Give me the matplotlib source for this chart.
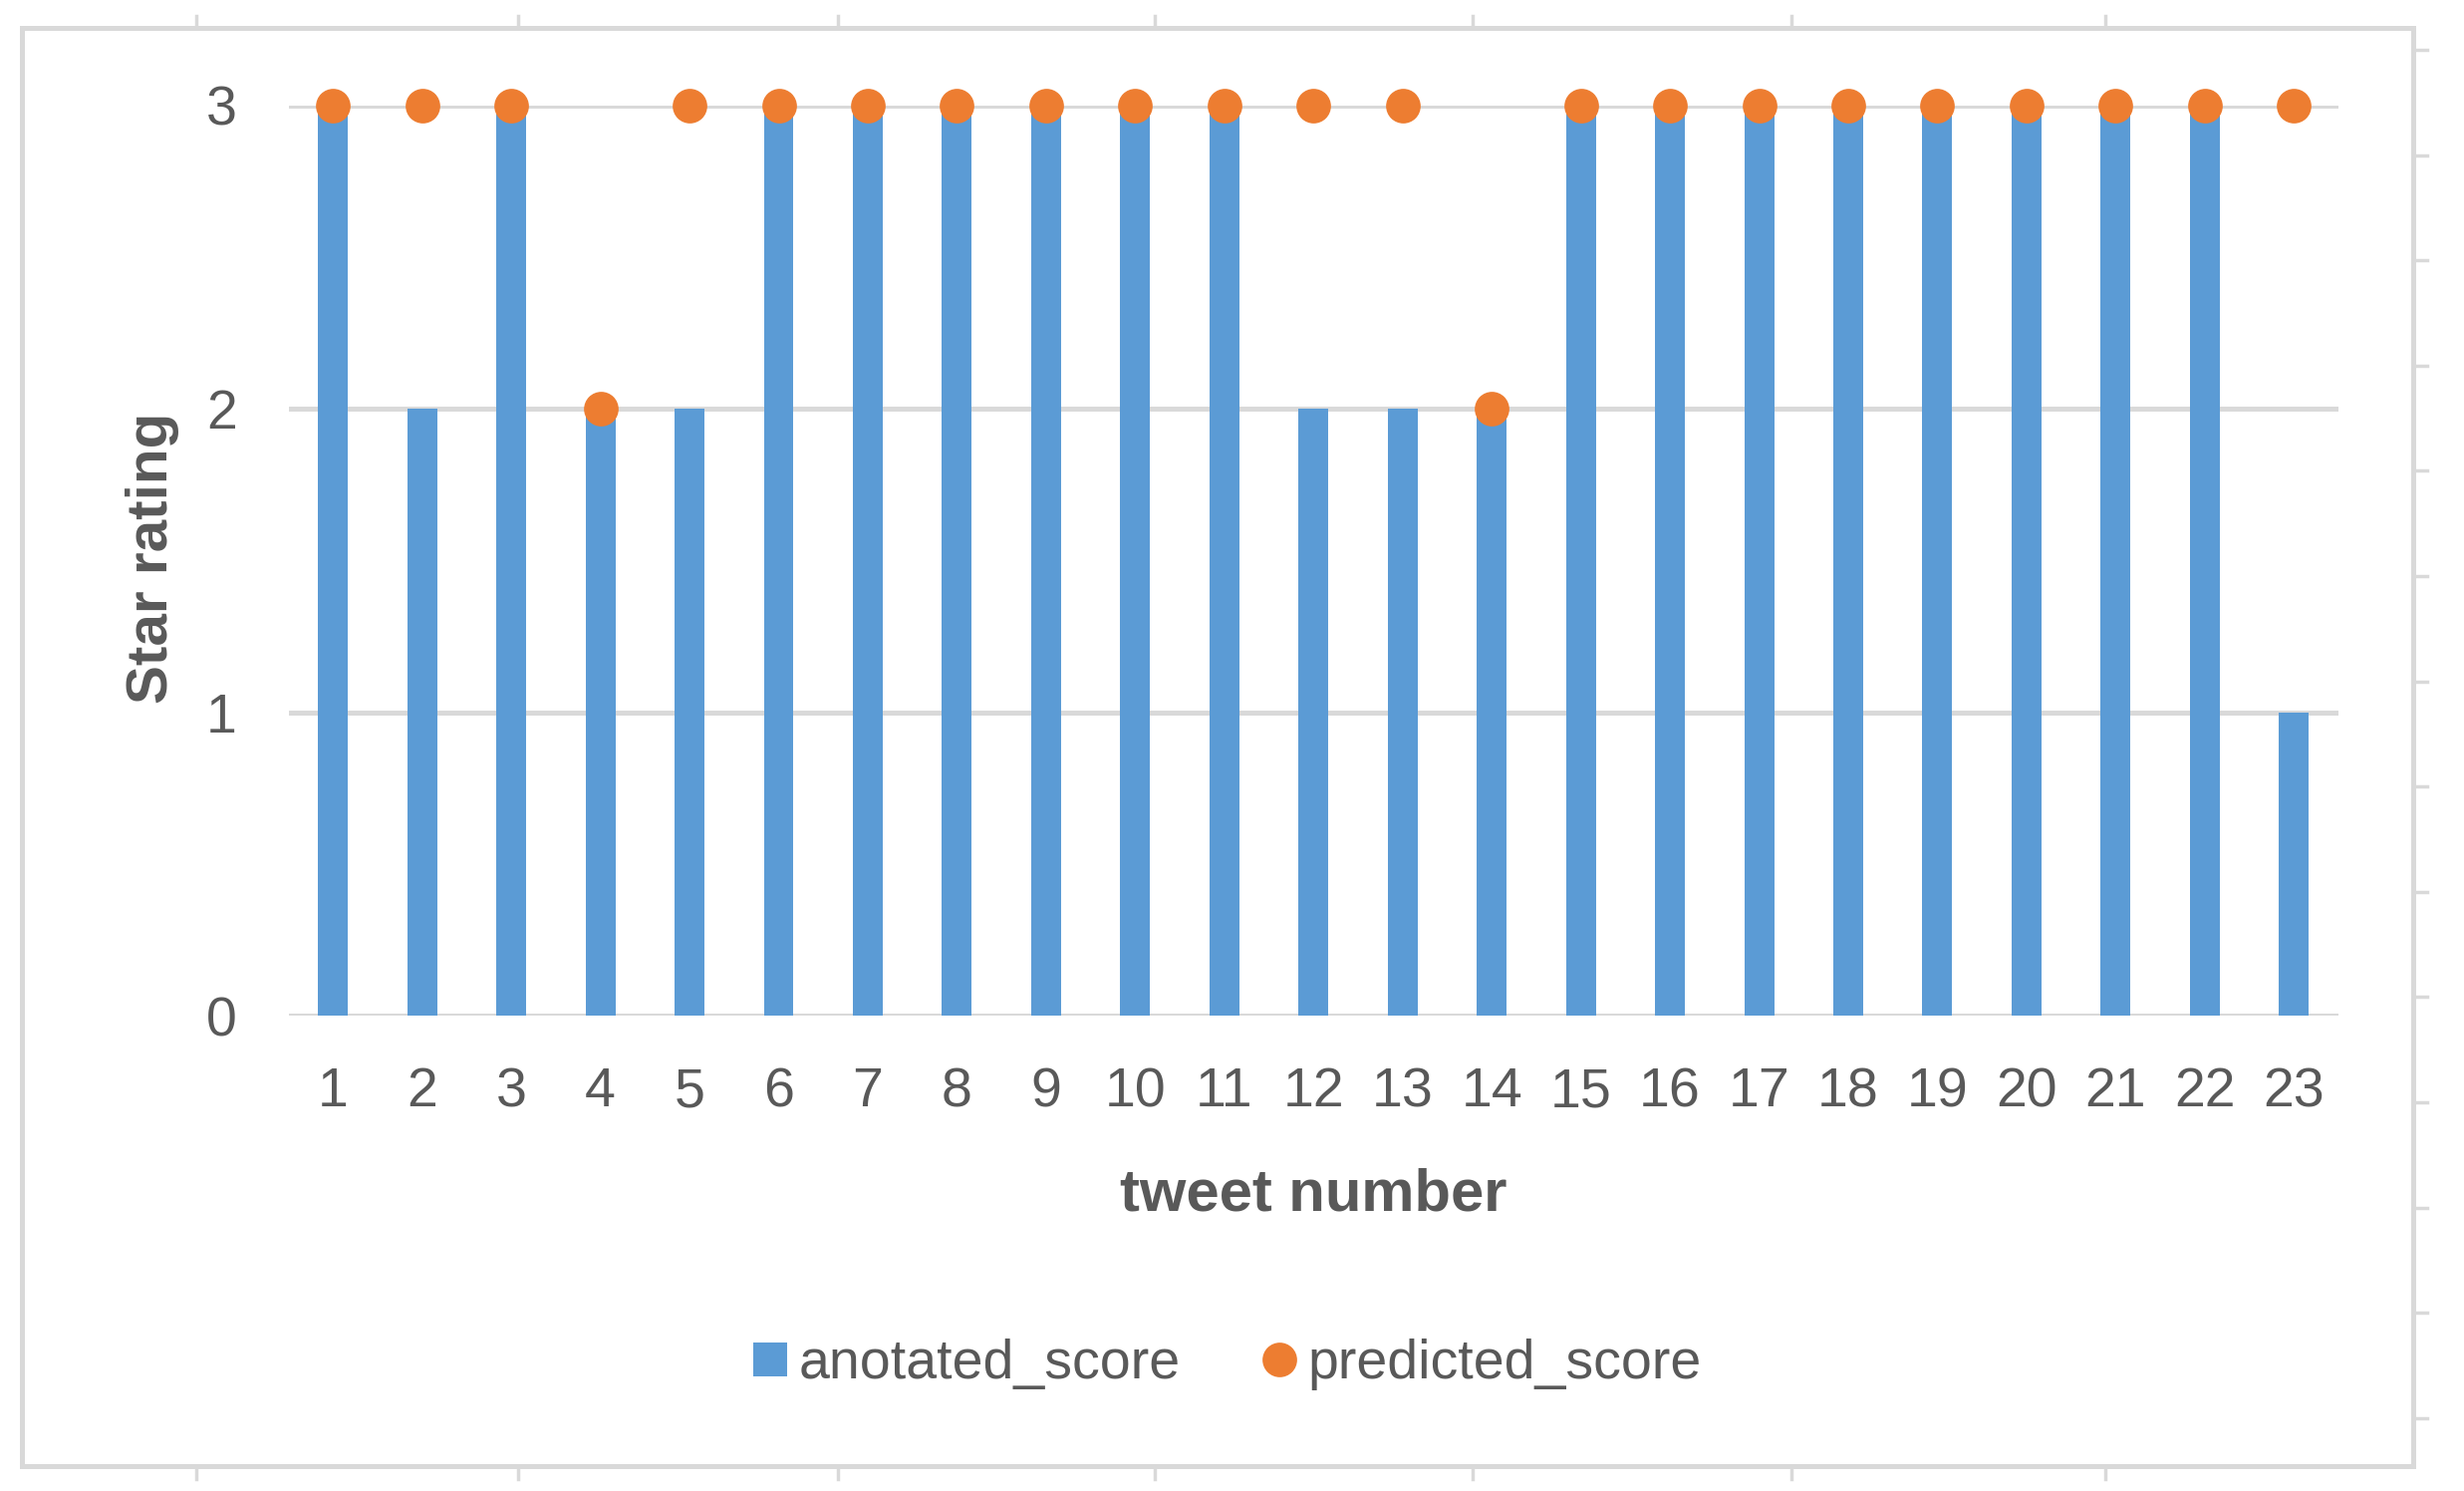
import matplotlib.pyplot as plt
from matplotlib.lines import Line2D
from matplotlib.patches import Rectangle

# data
tweet_number = list(range(1, 24))
anotated_score = [3, 2, 3, 2, 2, 3, 3, 3, 3, 3, 3, 2, 2, 2, 3, 3, 3, 3, 3, 3, 3, 3, 1]
predicted_score = [3, 3, 3, 2, 3, 3, 3, 3, 3, 3, 3, 3, 3, 2, 3, 3, 3, 3, 3, 3, 3, 3, 3]
y_ticks = [0, 1, 2, 3]

blue = "#5B9BD5"
orange = "#ED7D31"
grey_txt = "#595959"
grid_c = "#D9D9D9"

plt.rcParams["font.family"] = ["Liberation Sans", "DejaVu Sans"]

W, H = 2473, 1496
fig = plt.figure(figsize=(W / 100, H / 100), dpi=100)
ax = fig.add_axes([289.5 / W, 1 - 1019 / H, (2347 - 289.5) / W, (1019 - 105.6) / H])

ax.bar(tweet_number, anotated_score, width=0.335, color=blue, zorder=2)
ax.plot(tweet_number, predicted_score, linestyle="none", marker="o", markersize=25,
        color=orange, markeredgewidth=0, clip_on=False, zorder=3)

ax.set_xlim(0.5, 23.5)
ax.set_ylim(0, 3)
ax.set_xticks(tweet_number)
ax.set_yticks(y_ticks)
ax.yaxis.grid(True, color=grid_c, linewidth=3.6, zorder=0)
ax.set_axisbelow(True)
for s in ax.spines.values():
    s.set_visible(False)
ax.tick_params(length=0, labelsize=40, labelcolor=grey_txt)
ax.tick_params(axis="y", pad=37)
ax.tick_params(axis="x", pad=37)

fig.text(1318 / W, 1 - 1199 / H, "tweet number", fontsize=43, fontweight="bold",
         color=grey_txt, ha="center", va="center")
fig.text(153 / W, 1 - 560 / H, "Star rating", fontsize=42, fontweight="bold",
         color=grey_txt, ha="center", va="center", rotation=90)

handles = [
    Line2D([], [], linestyle="none", marker="s", markersize=25, color=blue, markeredgewidth=0),
    Line2D([], [], linestyle="none", marker="o", markersize=25, color=orange, markeredgewidth=0),
]
fig.legend(handles, ["anotated_score", "predicted_score"], loc="center",
           bbox_to_anchor=(1232 / W, 1 - 1369 / H), ncol=2, frameon=False,
           fontsize=40, labelcolor=grey_txt, handlelength=0.6, handletextpad=0.2,
           columnspacing=1.5)

# chart border + spreadsheet cell lines peeking out
fig.patches.append(Rectangle((22 / W, 1 - 1471 / H), 2400 / W, 1443 / H, fill=False,
                             edgecolor=grid_c, linewidth=3.6, transform=fig.transFigure))
for x in [197, 520, 841, 1159, 1478, 1798, 2113]:
    fig.add_artist(Line2D([x / W, x / W], [1 - 28 / H, 1 - 16 / H], color=grid_c, linewidth=2.5))
    fig.add_artist(Line2D([x / W, x / W], [1 - 1471 / H, 1 - 1484 / H], color=grid_c, linewidth=2.5))
for i in range(14):
    y = 50 + 105.6 * i
    fig.add_artist(Line2D([2422 / W, 2436 / W], [1 - y / H, 1 - y / H], color=grid_c, linewidth=2.5))

fig.savefig("out.png", dpi=100)
